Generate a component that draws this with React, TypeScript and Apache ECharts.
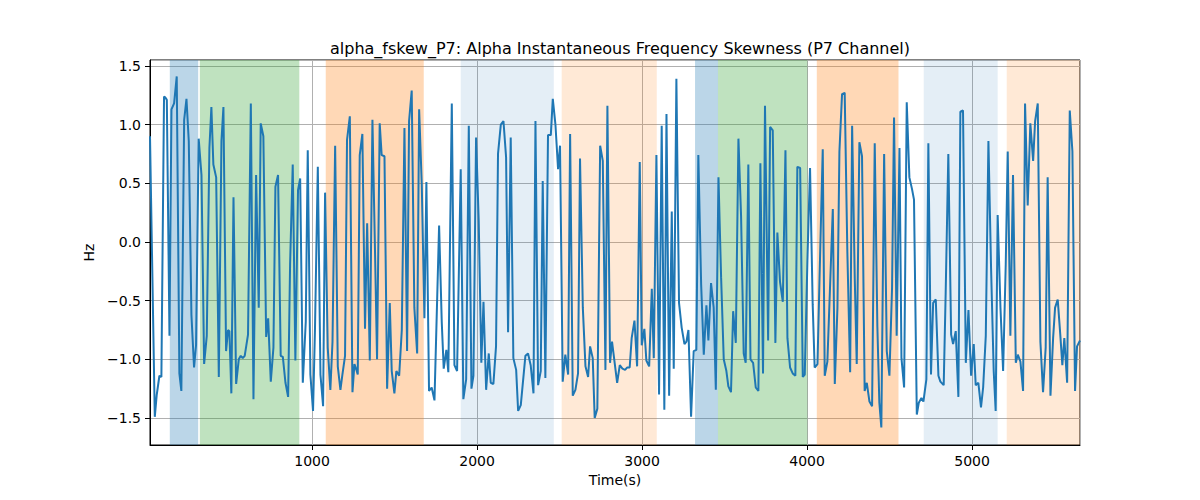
import React, { useEffect, useRef } from "react";
import * as echarts from "echarts";

// (time in s, skewness in Hz)
const skewSamples: [number, number][] = [
  [18, 0.9], [47, -1.49], [59, -1.3], [75, -1.14], [87, -1.15], [103, 1.24], [111, 1.23], [120, 1.21],
  [136, -0.8], [148, 1.13], [164, 1.18], [180, 1.41], [196, -1.12], [208, -1.27], [225, 1.04], [239, 1.22],
  [253, 0.86], [269, -0.62], [285, -1.07], [297, -0.88], [313, 0.88], [330, 0.57], [346, -1.04], [362, -0.8],
  [378, 0.8], [390, 1.15], [402, 0.66], [419, 0.55], [435, -1.15], [451, 0.86], [463, 1.15], [479, -0.93],
  [491, -0.75], [499, -0.76], [511, -1.29], [524, 0.38], [540, -1.21], [556, -1.0], [568, -0.97], [580, -0.99],
  [592, -0.97], [612, -0.79], [629, 1.18], [645, -1.34], [661, 0.57], [677, -0.56], [689, 1.01], [705, 0.9],
  [722, -0.81], [734, -0.65], [750, -1.19], [766, -0.9], [778, 0.47], [794, 0.57], [810, -0.97], [823, -0.98],
  [839, -1.2], [855, -1.32], [867, -0.19], [883, 0.66], [899, -1.01], [915, 0.44], [928, 0.54], [944, -1.2],
  [962, -0.68], [974, 0.78], [990, -1.13], [1006, -1.44], [1018, -0.73], [1035, 0.64], [1051, -1.13], [1067, -1.4],
  [1079, 0.42], [1095, -0.9], [1111, -1.26], [1124, -0.85], [1140, 0.82], [1156, -1.06], [1172, -1.26], [1184, -1.13],
  [1200, -0.97], [1212, 0.87], [1229, 1.07], [1245, -1.28], [1257, -1.04], [1269, -1.09], [1277, -1.13], [1289, 0.74],
  [1305, 0.92], [1321, -0.74], [1334, 0.16], [1350, -1.01], [1366, 1.04], [1382, -0.11], [1394, -1.0], [1410, 1.01],
  [1422, 0.74], [1439, 0.73], [1455, -1.25], [1471, -0.52], [1483, -1.1], [1499, -1.29], [1511, -1.1], [1528, -1.14],
  [1544, -0.75], [1560, 0.97], [1576, -0.93], [1588, 1.03], [1604, 1.29], [1620, -0.56], [1637, -0.95], [1649, 1.13],
  [1665, 0.49], [1681, -0.65], [1693, 0.51], [1709, -1.27], [1725, -1.24], [1742, -1.35], [1770, 0.14], [1786, -0.68],
  [1798, -1.08], [1814, -0.92], [1826, -1.11], [1847, 1.18], [1863, -1.05], [1879, -1.1],
  [1901, 0.62], [1917, -1.34], [1934, -1.17], [1950, 0.99], [1966, -1.25], [1978, -1.14], [1994, 0.89], [2010, 0.18],
  [2026, -1.03], [2039, -0.51], [2055, -1.26], [2071, -0.95], [2083, -1.2], [2099, -1.21], [2115, -0.89], [2127, 0.75],
  [2144, 1.0], [2160, 1.03], [2176, 0.72], [2188, -0.77], [2204, 0.89], [2220, -0.99], [2237, -1.09], [2249, -1.44],
  [2265, -1.39], [2293, -0.97], [2309, -0.95], [2325, -1.05], [2342, -1.29], [2354, 1.03], [2370, -1.22], [2386, -1.1],
  [2398, 0.52], [2414, -1.16], [2430, 0.91], [2447, 0.91], [2459, 1.22], [2475, 1.0], [2491, 0.62], [2503, 0.82],
  [2519, -1.19], [2535, -0.96], [2552, -1.13], [2564, 0.92], [2580, -1.31], [2596, -1.26], [2612, -1.12], [2624, 0.71],
  [2641, -0.56], [2657, -1.06], [2673, -1.15], [2685, -0.89], [2701, -0.99], [2713, -1.5], [2729, -1.42], [2746, 0.82],
  [2762, 0.69], [2778, -1.09], [2790, 1.16], [2806, -1.03], [2818, -0.85],
  [2849, -1.2], [2865, -1.05], [2881, -1.08], [2897, -1.09], [2909, -1.07], [2925, -1.07], [2937, -0.82], [2954, -0.67],
  [2970, -1.06], [2986, 0.68], [2998, -0.88], [3014, -0.74], [3026, -1.01], [3043, -1.06], [3059, -0.4], [3071, -0.99],
  [3087, 0.74], [3103, -1.3], [3119, 0.99], [3135, -1.43], [3148, 1.09], [3164, -1.31], [3180, 0.26], [3192, -1.08],
  [3208, 1.39], [3224, -0.52], [3240, -0.73], [3257, -0.87], [3269, -0.85], [3281, -0.75], [3297, -1.49], [3313, -0.93],
  [3329, -0.92], [3341, 0.74], [3358, -0.36], [3374, -0.96], [3390, -0.54], [3402, -0.84], [3418, -0.35], [3434, -0.56],
  [3447, -1.26], [3463, 0.55], [3479, -0.3], [3495, -1.0], [3511, -1.1], [3523, -1.23], [3539, -1.28], [3552, -0.59],
  [3568, -0.86], [3584, 0.88], [3600, 0.22], [3616, -0.95], [3628, -1.03], [3644, 0.66], [3657, -1.0], [3673, -1.03],
  [3689, -1.24], [3705, -1.27], [3717, 0.67], [3733, -1.12], [3745, 1.16],
  [3764, -0.84], [3776, 0.98], [3792, 0.95], [3808, -0.86], [3820, 0.08], [3836, -0.34], [3853, -0.51], [3869, 0.78],
  [3881, -0.82], [3897, -1.07], [3913, -1.12], [3929, -1.14], [3941, 0.64], [3958, 0.63], [3974, -1.15], [3986, -1.13],
  [4002, -0.16], [4018, 0.63], [4034, -0.53], [4046, -1.07], [4063, -1.04], [4079, -0.11], [4095, 0.79], [4107, -1.14],
  [4123, -1.02], [4139, -0.39], [4156, 0.28], [4168, -1.21], [4184, -0.56], [4196, 0.77], [4212, 1.26], [4228, 1.27],
  [4244, -0.08], [4261, -1.11], [4273, 0.99], [4289, -0.31], [4301, -1.04], [4317, 0.85], [4333, 0.73], [4349, -1.27],
  [4362, -1.2], [4378, -1.36], [4394, -1.4], [4410, 0.84], [4426, -0.72], [4438, -1.37], [4450, -1.58], [4467, 0.75],
  [4483, -0.93], [4499, -1.14], [4515, -0.39], [4527, 1.06], [4543, -0.8], [4560, 0.8], [4572, -0.99], [4588, -1.24],
  [4604, 1.19], [4620, 0.55], [4636, 0.45], [4648, 0.36], [4665, -1.47], [4677, -1.37], [4693, -1.33], [4705, -1.36],
  [4723, -1.17], [4735, 0.84], [4751, -1.13], [4764, -0.52], [4780, -0.49], [4796, -1.14], [4808, -1.19], [4828, -1.22],
  [4840, -0.43], [4856, 0.75], [4873, -0.79], [4885, -0.87], [4901, -0.76], [4917, -1.32], [4929, 1.11], [4945, 1.12],
  [4962, -1.03], [4978, -0.58], [4994, -1.14], [5010, -0.87], [5022, -1.22], [5038, -1.2], [5054, -1.41], [5067, -1.24],
  [5083, -0.8], [5099, 0.86], [5115, -0.22], [5131, -1.1], [5143, -1.44], [5155, 0.23], [5172, -0.56], [5188, -1.1],
  [5204, -0.19], [5216, 0.77], [5232, -0.8], [5248, 0.57], [5265, -1.03], [5277, -0.96], [5293, -1.02], [5309, -1.27],
  [5321, 1.18], [5337, 0.31], [5353, 1.01], [5370, 0.69], [5382, 1.03], [5398, 1.18], [5414, -0.85], [5430, -1.28],
  [5446, -0.9], [5458, 0.55], [5475, -1.31], [5491, -0.82], [5503, -0.56], [5519, -0.49], [5535, -0.8], [5547, -1.05],
  [5559, -0.82], [5576, -1.2], [5592, 1.12], [5608, 0.77], [5624, -1.27], [5636, -0.89], [5654, -0.84],
];

// shaded time bands
const bandStarts = [138, 320, 1083, 1901, 2513, 3321, 3460, 4059, 4707, 5210];
const bandEnds = [310, 923, 1677, 2465, 3089, 3460, 4002, 4554, 5155, 5654];
const bandKinds = ["blue", "green", "orange", "paleBlue", "paleOrange", "blue", "green", "orange", "paleBlue", "paleOrange"];

const bandColors: Record<string, string> = {
  blue: "rgba(31,119,180,0.3)",
  green: "rgba(44,160,44,0.3)",
  orange: "rgba(255,127,14,0.3)",
  paleBlue: "rgba(31,119,180,0.12)",
  paleOrange: "rgba(255,127,14,0.17)",
};

const FONT = "DejaVu Sans";
const fmtTick = (v: number) => v.toFixed(1).replace("-", "\u2212");

const App: React.FC = () => {
  const chartRef = useRef<HTMLDivElement | null>(null);

  useEffect(() => {
    if (!chartRef.current) return;
    const chart = echarts.init(chartRef.current, undefined, { renderer: "svg" });

    const bands = bandStarts.map((s, i) => [
      { xAxis: s, itemStyle: { color: bandColors[bandKinds[i]] } },
      { xAxis: bandEnds[i] },
    ]);

    chart.setOption({
      animation: false,
      textStyle: { fontFamily: FONT },
      title: {
        text: "alpha_fskew_P7: Alpha Instantaneous Frequency Skewness (P7 Channel)",
        left: 615,
        textAlign: "center",
        top: 35,
        textStyle: { fontFamily: FONT, fontSize: 16, fontWeight: "normal", color: "#000" },
      },
      grid: {
        left: 150,
        right: 120,
        top: 60,
        bottom: 55,
        show: true,
        borderColor: "#000",
        borderWidth: 1,
        backgroundColor: "transparent",
      },
      xAxis: {
        type: "value",
        min: 18,
        max: 5654,
        name: "Time(s)",
        nameLocation: "middle",
        nameGap: 28,
        nameTextStyle: { fontFamily: FONT, fontSize: 14, color: "#000" },
        axisLine: { show: true, onZero: false, lineStyle: { color: "#000", width: 1 } },
        axisTick: { show: true, length: 5, lineStyle: { color: "#000" } },
        axisLabel: {
          margin: 9,
          fontFamily: FONT,
          fontSize: 14,
          color: "#000",
          showMinLabel: false,
          showMaxLabel: false,
          formatter: (v: number) => String(v),
        },
        splitLine: { show: true, lineStyle: { color: "#b0b0b0", width: 1 } },
      },
      yAxis: {
        type: "value",
        min: -1.73,
        max: 1.55,
        name: "Hz",
        nameLocation: "middle",
        nameGap: 47,
        nameTextStyle: { fontFamily: FONT, fontSize: 14, color: "#000" },
        axisLine: { show: true, onZero: false, lineStyle: { color: "#000", width: 1 } },
        axisTick: { show: true, length: 5, lineStyle: { color: "#000" } },
        axisLabel: {
          margin: 9,
          fontFamily: FONT,
          fontSize: 14,
          color: "#000",
          showMinLabel: false,
          showMaxLabel: false,
          formatter: fmtTick,
        },
        splitLine: { show: true, lineStyle: { color: "#b0b0b0", width: 1 } },
      },
      series: [
        {
          type: "line",
          data: [],
          z: 1,
          silent: true,
          markArea: { silent: true, label: { show: false }, data: bands },
        },
        {
          type: "line",
          data: skewSamples,
          z: 3,
          showSymbol: false,
          symbol: "none",
          lineStyle: { color: "#1f77b4", width: 2 },
        },
      ],
    });

    return () => {
      chart.dispose();
    };
  }, []);

  return (
    <div
      ref={chartRef}
      style={{ position: "absolute", left: 0, top: 0, width: "1200px", height: "500px" }}
    />
  );
};

export default App;
